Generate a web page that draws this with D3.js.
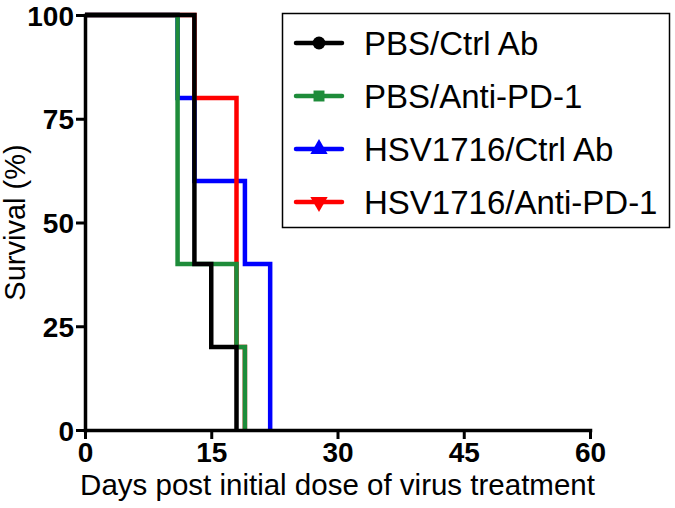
<!DOCTYPE html>
<html>
<head>
<meta charset="utf-8">
<script src="https://cdn.jsdelivr.net/npm/d3@7"></script>
<style>
  body { margin: 0; background: #fff; }
  svg { display: block; font-family: Arial, "Liberation Sans", sans-serif; }
</style>
</head>
<body>
<div id="chart"></div>
<script>
// data
const seriesNames = ["PBS/Ctrl Ab", "PBS/Anti-PD-1", "HSV1716/Ctrl Ab", "HSV1716/Anti-PD-1"];
const pbsCtrlDays = [0, 13, 15, 18];
const pbsCtrlSurv = [100, 40, 20, 0];
const pbsPd1Days = [0, 11, 18, 19];
const pbsPd1Surv = [100, 40, 20, 0];
const hsvCtrlDays = [0, 11, 13, 19, 22];
const hsvCtrlSurv = [100, 80, 60, 40, 0];
const hsvPd1Days = [0, 13, 18, 19];
const hsvPd1Surv = [100, 80, 20, 0];
const xTicks = [0, 15, 30, 45, 60];
const yTicks = [0, 25, 50, 75, 100];

const colors = ["#000000", "#1e8c3a", "#0000ff", "#ff0000"];
const symbols = [d3.symbolCircle, d3.symbolSquare, d3.symbolTriangle, d3.symbolTriangle];

const series = [
  { name: seriesNames[0], days: pbsCtrlDays, surv: pbsCtrlSurv, color: colors[0] },
  { name: seriesNames[1], days: pbsPd1Days, surv: pbsPd1Surv, color: colors[1] },
  { name: seriesNames[2], days: hsvCtrlDays, surv: hsvCtrlSurv, color: colors[2] },
  { name: seriesNames[3], days: hsvPd1Days, surv: hsvPd1Surv, color: colors[3] }
];

const width = 675, height = 508;
const margin = { top: 15, right: 85, bottom: 78, left: 85 };

const svg = d3.select("#chart")
  .append("svg")
  .attr("width", width)
  .attr("height", height);

const x = d3.scaleLinear().domain([0, 60]).range([margin.left, width - margin.right]);
const y = d3.scaleLinear().domain([0, 100]).range([height - margin.bottom, margin.top]);

// curves, drawn so the overlaps match the figure
const line = d3.line()
  .x(d => x(d[0]))
  .y(d => y(d[1]))
  .curve(d3.curveStepAfter);

const drawOrder = [2, 3, 1, 0];
drawOrder.forEach(i => {
  const s = series[i];
  svg.append("path")
    .datum(s.days.map((d, j) => [d, s.surv[j]]))
    .attr("fill", "none")
    .attr("stroke", s.color)
    .attr("stroke-width", 4.5)
    .attr("d", line);
});

// axes
const xAxis = svg.append("g")
  .attr("transform", "translate(0," + y(0) + ")")
  .call(d3.axisBottom(x).tickValues(xTicks).tickSize(9).tickPadding(3).tickSizeOuter(0));

const yAxis = svg.append("g")
  .attr("transform", "translate(" + x(0) + ",0)")
  .call(d3.axisLeft(y).tickValues(yTicks).tickSize(9).tickPadding(2).tickSizeOuter(0));

[xAxis, yAxis].forEach(g => {
  g.select(".domain").attr("stroke", "#000").attr("stroke-width", 3.5).attr("stroke-linecap", "square");
  g.selectAll(".tick line").attr("stroke", "#000").attr("stroke-width", 3);
  g.selectAll(".tick text")
    .attr("fill", "#000")
    .style("font-size", "28px")
    .style("font-weight", "bold")
    .style("font-family", "Arial, 'Liberation Sans', sans-serif");
});
yAxis.selectAll(".tick text").attr("dy", "0.36em");

// axis titles
svg.append("text")
  .attr("x", (x(0) + x(60)) / 2)
  .attr("y", 495)
  .attr("text-anchor", "middle")
  .style("font-size", "29.5px")
  .text("Days post initial dose of virus treatment");

svg.append("text")
  .attr("transform", "translate(25," + (y(50)) + ")rotate(-90)")
  .attr("text-anchor", "middle")
  .style("font-size", "29px")
  .text("Survival (%)");

// legend
const legend = svg.append("g");
legend.append("rect")
  .attr("x", 282.5)
  .attr("y", 13.5)
  .attr("width", 387)
  .attr("height", 214)
  .attr("fill", "#fff")
  .attr("stroke", "#000")
  .attr("stroke-width", 1.5);

const legendY = d3.scalePoint().domain(seriesNames).range([43, 202]);

series.forEach((s, i) => {
  const cy = legendY(s.name);
  legend.append("line")
    .attr("x1", 296).attr("x2", 342)
    .attr("y1", cy).attr("y2", cy)
    .attr("stroke", s.color)
    .attr("stroke-width", 4.5)
    .attr("stroke-linecap", "round");
  legend.append("path")
    .attr("d", d3.symbol().type(symbols[i]).size(i === 1 ? 120 : 130))
    .attr("transform", "translate(319," + cy + ")" + (i === 3 ? "rotate(180)" : ""))
    .attr("fill", s.color);
  legend.append("text")
    .attr("x", 364)
    .attr("y", cy)
    .attr("dy", "0.36em")
    .style("font-size", "33px")
    .text(s.name);
});
</script>
</body>
</html>
